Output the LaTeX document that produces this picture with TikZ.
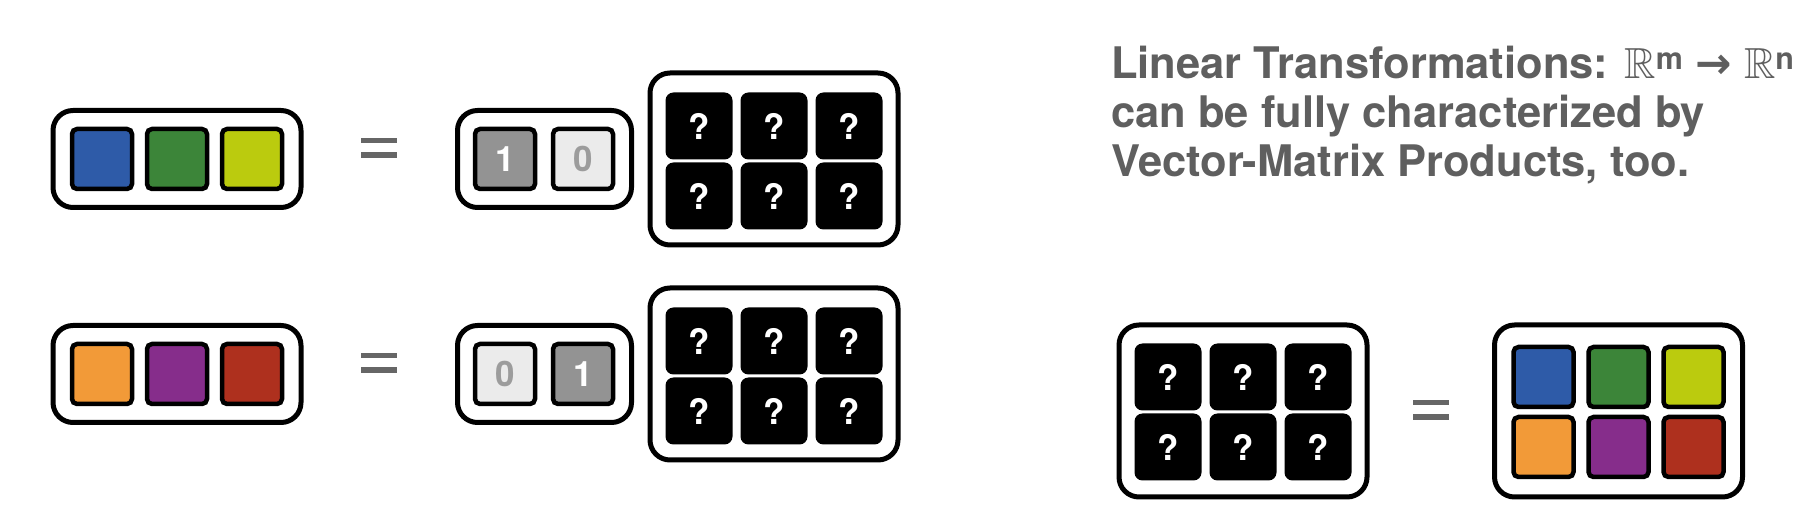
\documentclass[tikz,border=0pt]{standalone}
\usepackage{amssymb}
\usepackage{fontspec}
\setmainfont{TeX Gyre Heros}
\newfontfamily\arrowfont{DejaVu Sans}
\usetikzlibrary{positioning}

\definecolor{cblue}{HTML}{2E5BA8}
\definecolor{cgreen}{HTML}{3C8539}
\definecolor{cyellow}{HTML}{BBCB0E}
\definecolor{corange}{HTML}{F29A38}
\definecolor{cpurple}{HTML}{862D8B}
\definecolor{cred}{HTML}{AE301E}
\definecolor{gdark}{HTML}{939393}
\definecolor{glight}{HTML}{EBEBEB}
\definecolor{gtext}{HTML}{9C9C9C}
\definecolor{tgray}{HTML}{5F5F5F}
\definecolor{eqgray}{HTML}{666666}

\begin{document}
\begin{tikzpicture}[x=1pt,y=1pt,node distance=75pt,
    outer box/.style={draw,line width=5pt,rounded corners=20pt,fill=white},
    vec box/.style={outer box,minimum width=248pt,minimum height=97pt},
    basis box/.style={outer box,minimum width=174pt,minimum height=97pt},
    mat box/.style={outer box,minimum width=248pt,minimum height=172pt},
    cell/.style={draw,line width=4.5pt,rounded corners=5pt,minimum size=60pt,inner sep=0pt,
                 font=\fontsize{35}{35}\selectfont\bfseries},
    qcell/.style={fill=black,rounded corners=8pt,minimum size=67pt,inner sep=0pt,text=white,
                  font=\fontsize{35}{35}\selectfont\bfseries},
    equals/.style={minimum width=36pt,minimum height=20pt,inner sep=0pt,
      path picture={
        \fill[eqgray] (path picture bounding box.north west) rectangle ([yshift=-5.5pt]path picture bounding box.north east);
        \fill[eqgray] (path picture bounding box.south west) rectangle ([yshift=5.5pt]path picture bounding box.south east);}},
    title/.style={align=left,inner sep=0pt,text=tgray,font=\fontsize{43.5}{49}\selectfont\bfseries}]

  \useasboundingbox (0,0) rectangle (1820,524);

  \node[vec box] (row1) at (177,365) {};
  \node[cell,fill=cblue] (blue1) at (102,365) {};
  \node[cell,fill=cgreen] (green1) [right of=blue1] {};
  \node[cell,fill=cyellow] (yellow1) [right of=green1] {};

  \node[equals] (eq1) at (379,376) {};

  \node[basis box] (basis1) at (544.5,365) {};
  \node[cell,fill=gdark,text=white] (one1) at (505,365) {1};
  \node[cell,fill=glight,text=gtext] (zero1) [node distance=78pt,right of=one1] {0};

  \node[mat box] (mat1) at (774,365) {};
  \node[qcell] (q11) at (699,398) {?};
  \node[qcell] (q12) [right of=q11] {?};
  \node[qcell] (q13) [right of=q12] {?};
  \node[qcell] (q21) [node distance=70pt,below of=q11] {?};
  \node[qcell] (q22) [right of=q21] {?};
  \node[qcell] (q23) [right of=q22] {?};

  \node[vec box] (row2) at (177,150) {};
  \node[cell,fill=corange] (orange2) at (102,150) {};
  \node[cell,fill=cpurple] (purple2) [right of=orange2] {};
  \node[cell,fill=cred] (red2) [right of=purple2] {};

  \node[equals] (eq2) at (379,161) {};

  \node[basis box] (basis2) at (544.5,150) {};
  \node[cell,fill=glight,text=gtext] (zero2) at (505,150) {0};
  \node[cell,fill=gdark,text=white] (one2) [node distance=78pt,right of=zero2] {1};

  \node[mat box] (mat2) at (774,150) {};
  \node[qcell] (r11) at (699,183) {?};
  \node[qcell] (r12) [right of=r11] {?};
  \node[qcell] (r13) [right of=r12] {?};
  \node[qcell] (r21) [node distance=70pt,below of=r11] {?};
  \node[qcell] (r22) [right of=r21] {?};
  \node[qcell] (r23) [right of=r22] {?};

  \node[title,anchor=north west] (title) at (1111,478)
    {Linear Transformations: $\mathbb{R}$\textsuperscript{m} {\arrowfont →} $\mathbb{R}$\textsuperscript{n}\\
     can be fully characterized by\\
     Vector-Matrix Products, too.};

  \node[mat box] (matq) at (1243,113) {};
  \node[qcell] (s11) at (1168,147) {?};
  \node[qcell] (s12) [right of=s11] {?};
  \node[qcell] (s13) [right of=s12] {?};
  \node[qcell] (s21) [node distance=70pt,below of=s11] {?};
  \node[qcell] (s22) [right of=s21] {?};
  \node[qcell] (s23) [right of=s22] {?};

  \node[equals] (eq3) at (1431,114) {};

  \node[mat box] (matc) at (1618.5,113) {};
  \node[cell,fill=cblue] (blue3) at (1543.5,147) {};
  \node[cell,fill=cgreen] (green3) [right of=blue3] {};
  \node[cell,fill=cyellow] (yellow3) [right of=green3] {};
  \node[cell,fill=corange] (orange3) [node distance=70pt,below of=blue3] {};
  \node[cell,fill=cpurple] (purple3) [right of=orange3] {};
  \node[cell,fill=cred] (red3) [right of=purple3] {};

\end{tikzpicture}
\end{document}
